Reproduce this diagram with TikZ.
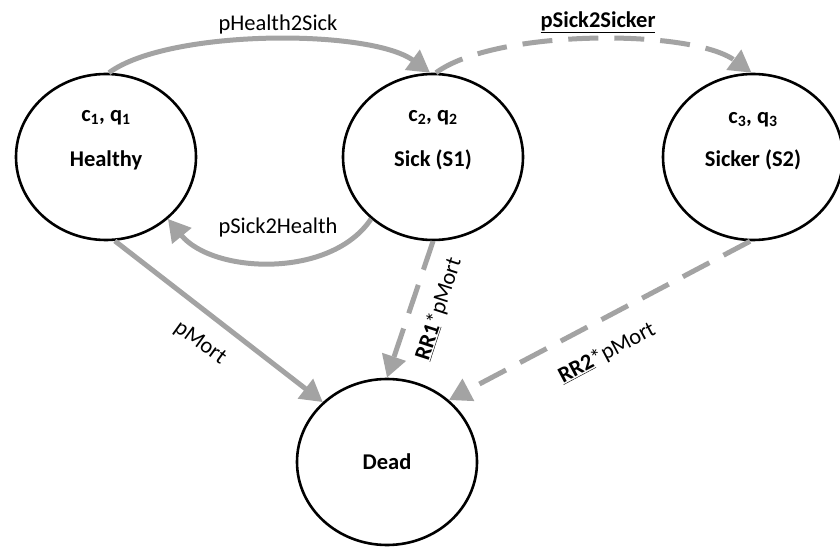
\documentclass[tikz,border=0pt]{standalone}
\usepackage{fontspec}
\setmainfont{Carlito}
\usetikzlibrary{arrows.meta,shapes.geometric}
\definecolor{arrowgray}{RGB}{163,163,163}
\tikzset{
  statebox/.style={ellipse,draw=black,line width=2.6pt,minimum width=180pt,minimum height=166pt,inner sep=0pt,fill=white},
  nodetext/.style={font=\fontsize{22.5}{26}\selectfont\bfseries,inner sep=0pt},
  edgetext/.style={font=\fontsize{22.5}{26}\selectfont,inner sep=0pt},
  flow/.style={draw=arrowgray,line width=5pt,-{Triangle[length=22pt,width=24pt]}},
  dashflow/.style={flow,dash pattern=on 30pt off 16pt}
}
\begin{document}
\begin{tikzpicture}[x=1pt,y=1pt]
\useasboundingbox (0,0) rectangle (840,549);
\node[statebox] (H) at (106,392) {};
\node[statebox] (S) at (433,392) {};
\node[statebox] (T) at (753,392) {};
\node[statebox] (D) at (387,87) {};
\node[nodetext] (Hcq) at ([yshift=39]H.center) {c\textsubscript{1}, q\textsubscript{1}};
\node[nodetext] (Ht) at ([yshift=-3]H.center) {Healthy};
\node[nodetext] (Scq) at ([yshift=39]S.center) {c\textsubscript{2}, q\textsubscript{2}};
\node[nodetext] (St) at ([yshift=-3]S.center) {Sick (S1)};
\node[nodetext] (Tcq) at ([yshift=37]T.center) {c\textsubscript{3}, q\textsubscript{3}};
\node[nodetext] (Tt) at ([yshift=-3]T.center) {Sicker (S2)};
\node[nodetext] (Dt) at (D.center) {Dead};
% edges
\draw[flow] (H.88) .. controls +(60,44) and +(-60,44) .. (S.92);
\draw[dashflow] (S.88) .. controls +(60,44) and +(-60,44) .. (T.91);
\draw[flow] (S.225) .. controls +(-40,-60) and +(45,-55) .. (H.315);
\draw[flow] (H.276) -- (D.137);
\draw[dashflow] (S.270) -- (D.90);
\draw[dashflow] (T.268) -- (D.45);
% labels
\node[edgetext] (l1) at (278,524) {pHealth2Sick};
\node[edgetext,font=\fontsize{22.5}{26}\selectfont\bfseries] (l2) at (598,527) {\underline{pSick2Sicker}};
\node[edgetext] (l3) at (278,321) {pSick2Health};
\node[edgetext,rotate=-36] (l4) at (200,206) {pMort};
\node[edgetext,rotate=72] (l5) at (439,240) {\textbf{\underline{RR1}}*pMort};
\node[edgetext,rotate=28] (l6) at (607,196) {\textbf{\underline{RR2}}*pMort};
\end{tikzpicture}
\end{document}
